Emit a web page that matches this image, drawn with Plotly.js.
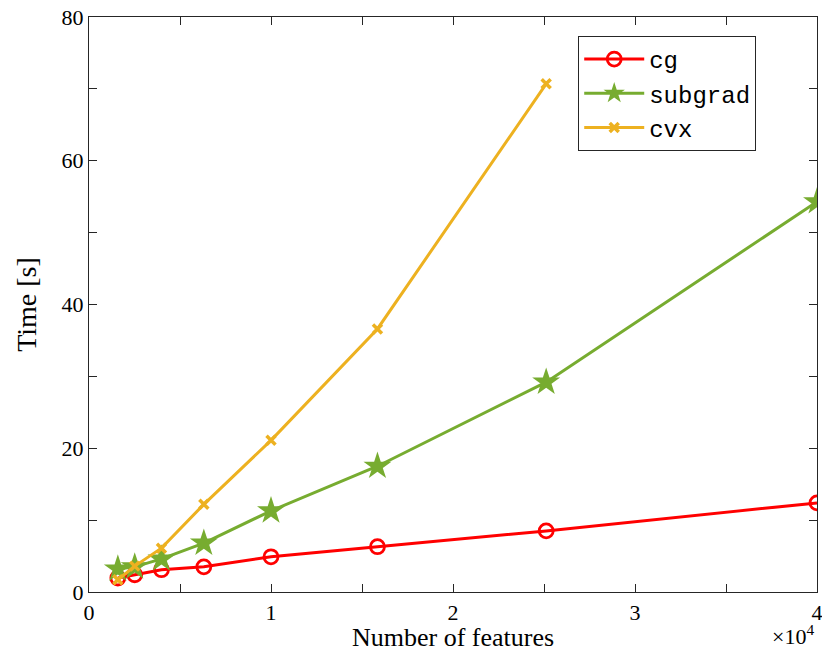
<!DOCTYPE html>
<html>
<head>
<meta charset="utf-8">
<script src="https://cdn.plot.ly/plotly-3.0.1.min.js"></script>
<style>html,body{margin:0;padding:0;background:#fff;}#chart{width:822px;height:650px;}</style>
</head>
<body>
<div id="chart"></div>
<script>
const features = [1585, 2512, 3981, 6310, 10000, 15849, 25119, 40000];
const featuresCvx = [1585, 2512, 3981, 6310, 10000, 15849, 25119];
const cgTime = [1.95, 2.4, 3.1, 3.5, 4.9, 6.3, 8.5, 12.4];
const subgradTime = [3.2, 3.5, 4.6, 6.8, 11.3, 17.5, 29.2, 54.3];
const cvxTime = [1.7, 3.6, 6.1, 12.2, 21.1, 36.6, 70.7];
const xTickVals = [0, 1, 2, 3, 4];
const xTickText = ['0', '1', '2', '3', '4'];
const yTickVals = [0, 20, 40, 60, 80];

const scale = 1e4;
const toX = a => a.map(v => v / scale);

const traces = [
  {x: toX(features), y: cgTime, name: 'cg', mode: 'lines+markers',
   line: {color: '#FF0000', width: 3},
   marker: {symbol: 'circle-open', size: 14, color: '#FF0000', line: {width: 2.8, color: '#FF0000'}}},
  {x: toX(features), y: subgradTime, name: 'subgrad', mode: 'lines+markers',
   line: {color: '#77AC30', width: 3},
   marker: {symbol: 'star', size: 21, color: '#77AC30', line: {width: 0}}},
  {x: toX(featuresCvx), y: cvxTime, name: 'cvx', mode: 'lines+markers',
   line: {color: '#EDB120', width: 3},
   marker: {symbol: 'x-thin-open', size: 9, color: '#EDB120', line: {width: 3.5, color: '#EDB120'}}}
];

const serif = 'Liberation Serif, Times New Roman, serif';
const layout = {
  width: 822, height: 650,
  margin: {l: 89, r: 5, t: 17, b: 58},
  paper_bgcolor: '#fff', plot_bgcolor: '#fff',
  showlegend: true,
  legend: {x: 0.672, y: 0.967, xanchor: 'left', yanchor: 'top',
    bgcolor: '#fff', bordercolor: '#262626', borderwidth: 1,
    font: {family: 'Liberation Mono, DejaVu Sans Mono, monospace', size: 24, color: '#000'},
    tracegroupgap: 0, itemwidth: 60},
  xaxis: {range: [0, 4], tickvals: xTickVals, ticktext: xTickText,
    ticklabeloverflow: 'allow',
    ticks: 'inside', ticklen: 8, tickwidth: 1, tickcolor: '#262626',
    minor: {dtick: 0.5, ticks: 'inside', ticklen: 8, tickcolor: '#262626', tickwidth: 1, showgrid: false},
    showline: true, linecolor: '#262626', linewidth: 1.2, mirror: 'allticks',
    showgrid: false, zeroline: false,
    tickfont: {family: serif, size: 22, color: '#000'},
    title: {text: ''}},
  yaxis: {range: [0, 80], tickvals: yTickVals,
    ticks: 'inside', ticklen: 8, tickwidth: 1, tickcolor: '#262626',
    minor: {dtick: 10, ticks: 'inside', ticklen: 8, tickcolor: '#262626', tickwidth: 1, showgrid: false},
    showline: true, linecolor: '#262626', linewidth: 1.2, mirror: 'allticks',
    showgrid: false, zeroline: false,
    tickfont: {family: serif, size: 22, color: '#000'},
    title: {text: 'Time [s]', font: {family: serif, size: 28, color: '#000'}, standoff: 16}},
  annotations: [{
    xref: 'paper', yref: 'paper', x: 0.5, y: 0, xanchor: 'center', yanchor: 'top',
    yshift: -28, height: 30, showarrow: false,
    text: 'Number of features', font: {family: serif, size: 26, color: '#000'}
  }, {
    xref: 'paper', yref: 'paper', x: 1.0, y: 0, xanchor: 'right', yanchor: 'top',
    yshift: -27, xshift: -1, showarrow: false,
    text: '×10<sup>4</sup>', font: {family: serif, size: 22, color: '#000'}
  }]
};

Plotly.newPlot('chart', traces, layout, {displayModeBar: false, staticPlot: true});
</script>
</body>
</html>
